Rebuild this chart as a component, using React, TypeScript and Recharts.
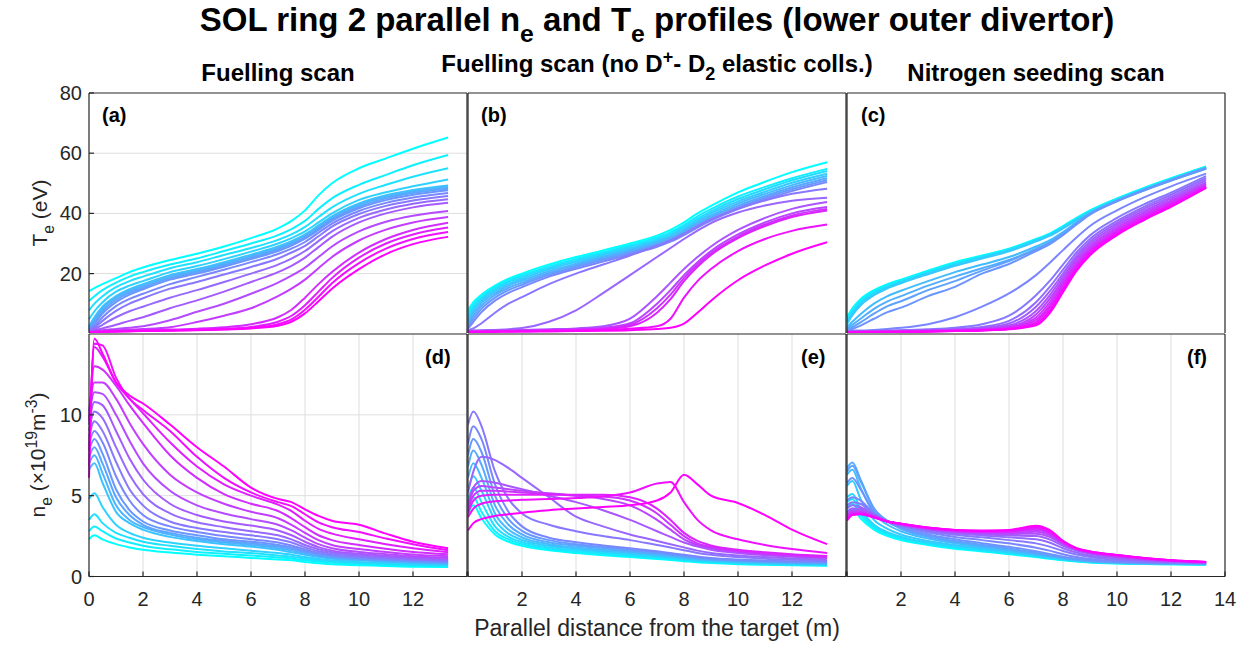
import React from 'react';
import { LineChart, Line, XAxis, YAxis, CartesianGrid } from 'recharts';

// parallel distance from the target (m), shared by every profile
const distance = [0, 0.2, 0.5, 1, 1.5, 2, 3, 4, 5, 6, 7, 7.5, 8, 8.5, 9, 10, 11, 12, 13.3];

// (a) Te, fuelling scan (eV)
const teFuelling = [
  [14.2, 15.2, 16.5, 18.5, 20.5, 22, 24.5, 26.6, 29, 31.8, 35, 37.5, 41, 46, 50, 55, 58.3, 61.5, 65.2],
  [10.9, 12.5, 14.5, 17, 19, 20.5, 23, 25, 27.5, 30, 32.8, 34.8, 37.5, 41.5, 45, 49.5, 52.8, 56, 59.4],
  [7.8, 10, 12.5, 15.5, 17.5, 19, 21.8, 23.8, 26.2, 28.5, 31.2, 33, 35.5, 38.8, 42, 46.5, 49.5, 52.2, 55],
  [4.8, 7.5, 10.5, 14, 16, 17.5, 20.5, 22.5, 24.8, 27.3, 30, 31.8, 34, 37, 40, 44.5, 47, 49, 51.3],
  [2.5, 5.5, 9, 12.5, 14.8, 16.5, 19.5, 21.5, 23.8, 26.3, 29, 30.8, 33, 36, 39, 43.3, 46, 47.8, 49.3],
  [2, 4.8, 8.3, 12, 14.3, 16, 19, 21, 23.3, 25.8, 28.5, 30.3, 32.5, 35.5, 38.5, 42.8, 45.5, 47.3, 48.8],
  [1.6, 4, 7.5, 11.3, 13.7, 15.4, 18.5, 20.5, 22.8, 25.3, 28, 29.8, 32, 35, 38, 42.2, 45, 46.8, 48.2],
  [1.3, 3.3, 6.7, 10.5, 13, 14.8, 18, 20, 22.3, 24.8, 27.5, 29.3, 31.6, 34.5, 37.5, 41.7, 44.4, 46.2, 47.7],
  [1.1, 2.5, 5.5, 9.2, 11.6, 13.3, 16.5, 18.9, 21.3, 23.8, 26.5, 28.3, 30.5, 33.6, 36.6, 40.8, 43.5, 45.3, 46.8],
  [1, 2, 4.3, 7.6, 10, 11.8, 15, 17.2, 19.7, 22.2, 25, 27, 29.2, 32.4, 35.6, 39.8, 42.5, 44.3, 45.8],
  [0.9, 1.5, 3, 5.5, 7.5, 9, 12, 14.5, 17.2, 20, 23, 25, 27.5, 30.8, 34, 38.5, 41.3, 43.2, 44.7],
  [0.8, 1.1, 1.8, 3, 4.3, 5.5, 8.5, 11.1, 14, 17.2, 20.5, 22.6, 25.3, 28.8, 32.2, 37, 40, 42, 43.5],
  [0.7, 0.9, 1.2, 1.6, 2, 2.5, 4.5, 7.3, 10, 13.3, 17, 19.3, 22, 25.5, 29, 34, 37.2, 39.2, 40.8],
  [0.6, 0.8, 1, 1.2, 1.4, 1.6, 2.2, 3.9, 6, 8.5, 12.5, 15, 18, 21.8, 25.5, 31, 34.6, 37, 38.8],
  [0.5, 0.7, 0.9, 1, 1.1, 1.2, 1.4, 1.7, 2.2, 3.2, 5.5, 8, 12, 16.5, 20.5, 27, 31.5, 34.5, 36.9],
  [0.5, 0.6, 0.8, 0.9, 1, 1.1, 1.2, 1.4, 1.7, 2.3, 4, 6, 9.5, 14, 18.5, 25.3, 30, 33, 35.3],
  [0.4, 0.5, 0.7, 0.8, 0.9, 1, 1.1, 1.3, 1.5, 2, 3.2, 4.8, 8, 12.3, 16.8, 23.5, 28.3, 31.5, 33.8],
  [0.4, 0.5, 0.6, 0.7, 0.8, 0.9, 1, 1.2, 1.4, 1.8, 2.7, 4, 6.8, 10.8, 15, 21.5, 26.5, 29.8, 32.2],
];

// (d) ne, fuelling scan (1e19 m^-3)
const neFuelling = [
  [2.3, 2.55, 2.3, 2.0, 1.8, 1.65, 1.48, 1.35, 1.25, 1.15, 1.05, 1.0, 0.9, 0.82, 0.75, 0.7, 0.65, 0.6, 0.58],
  [2.8, 3.1, 2.8, 2.35, 2.1, 1.9, 1.68, 1.52, 1.4, 1.3, 1.18, 1.12, 1.0, 0.92, 0.85, 0.78, 0.72, 0.68, 0.64],
  [3.5, 3.85, 3.3, 2.7, 2.4, 2.15, 1.9, 1.7, 1.55, 1.45, 1.3, 1.22, 1.1, 1.0, 0.92, 0.84, 0.78, 0.72, 0.68],
  [4.8, 5.15, 4.3, 3.2, 2.7, 2.4, 2.1, 1.9, 1.75, 1.6, 1.45, 1.35, 1.2, 1.08, 1.0, 0.9, 0.83, 0.77, 0.72],
  [6.6, 7.0, 5.8, 4.0, 3.3, 2.9, 2.45, 2.2, 2.0, 1.85, 1.65, 1.5, 1.35, 1.2, 1.1, 1.0, 0.92, 0.85, 0.78],
  [7.0, 7.5, 6.4, 4.4, 3.5, 3.05, 2.6, 2.3, 2.1, 1.95, 1.75, 1.6, 1.42, 1.26, 1.15, 1.04, 0.96, 0.88, 0.8],
  [7.4, 8.0, 7.0, 4.9, 3.8, 3.2, 2.7, 2.4, 2.2, 2.05, 1.85, 1.7, 1.5, 1.32, 1.2, 1.08, 1.0, 0.92, 0.84],
  [7.8, 8.5, 7.6, 5.4, 4.1, 3.4, 2.85, 2.55, 2.3, 2.15, 1.95, 1.8, 1.58, 1.38, 1.25, 1.12, 1.04, 0.96, 0.88],
  [8.2, 9.0, 8.3, 6.2, 4.7, 3.8, 3.1, 2.75, 2.5, 2.3, 2.1, 1.92, 1.68, 1.46, 1.32, 1.18, 1.08, 1.0, 0.92],
  [8.6, 9.6, 9.0, 7.1, 5.4, 4.4, 3.4, 3.0, 2.75, 2.55, 2.3, 2.1, 1.8, 1.56, 1.4, 1.24, 1.14, 1.05, 0.97],
  [9.0, 10.2, 9.8, 8.0, 6.3, 5.1, 3.9, 3.35, 3.05, 2.8, 2.55, 2.3, 1.95, 1.68, 1.5, 1.32, 1.2, 1.1, 1.02],
  [9.4, 10.8, 10.6, 9.0, 7.3, 6.0, 4.5, 3.8, 3.4, 3.15, 2.85, 2.55, 2.15, 1.82, 1.6, 1.4, 1.28, 1.17, 1.08],
  [9.8, 11.4, 11.3, 10.0, 8.4, 7.0, 5.3, 4.4, 3.9, 3.55, 3.2, 2.85, 2.4, 2.0, 1.75, 1.52, 1.38, 1.25, 1.15],
  [10.2, 12.0, 12.0, 11.0, 9.5, 8.2, 6.3, 5.2, 4.5, 4.0, 3.6, 3.2, 2.7, 2.25, 1.95, 1.7, 1.52, 1.36, 1.25],
  [9.6, 13.0, 12.8, 11.8, 10.6, 9.5, 7.5, 6.1, 5.1, 4.5, 4.05, 3.6, 3.05, 2.55, 2.25, 1.95, 1.72, 1.52, 1.38],
  [7.8, 14.2, 13.6, 12.0, 11.0, 10.1, 8.3, 6.8, 5.7, 5.0, 4.45, 4.05, 3.45, 2.95, 2.65, 2.3, 2.0, 1.75, 1.5],
  [6.8, 14.4, 14.3, 12.3, 11.0, 10.3, 9.0, 7.4, 6.1, 5.2, 4.6, 4.35, 3.85, 3.35, 3.05, 2.75, 2.35, 2.0, 1.62],
  [6.1, 14.7, 13.8, 12.0, 11.2, 10.7, 9.4, 8.0, 6.8, 5.5, 4.8, 4.6, 4.15, 3.75, 3.45, 3.2, 2.65, 2.15, 1.75],
];

// (b) Te, fuelling scan without D+ - D2 elastic collisions (eV)
const teNoElastic = [
  [7.8, 10.5, 13, 16, 18.3, 20, 23, 25.5, 27.7, 30, 32.6, 34.5, 37, 40, 42.5, 47, 50.5, 53.7, 57.0],
  [6.8, 9.6, 12.3, 15.4, 17.7, 19.4, 22.4, 24.9, 27.1, 29.4, 32, 33.8, 36.2, 39, 41.4, 45.6, 48.8, 51.7, 54.8],
  [5.8, 8.8, 11.7, 14.9, 17.2, 18.9, 21.9, 24.4, 26.6, 28.9, 31.4, 33.2, 35.6, 38.3, 40.7, 44.8, 48, 51, 54.1],
  [4.8, 7.9, 11, 14.3, 16.6, 18.3, 21.4, 23.9, 26.1, 28.4, 30.9, 32.6, 35, 37.6, 40, 44, 47.2, 50.2, 53.2],
  [3.9, 7, 10.2, 13.6, 16, 17.7, 20.8, 23.3, 25.6, 27.9, 30.4, 32.1, 34.4, 37, 39.3, 43.3, 46.5, 49.4, 52.4],
  [3.0, 6, 9.3, 12.9, 15.3, 17, 20.2, 22.8, 25.1, 27.4, 29.9, 31.6, 33.8, 36.4, 38.7, 42.6, 45.8, 48.7, 51.7],
  [2.3, 5, 8.3, 12, 14.5, 16.3, 19.6, 22.2, 24.6, 26.9, 29.4, 31.1, 33.3, 35.8, 38.1, 42, 45.2, 48, 51.0],
  [1.7, 4, 7.2, 11, 13.6, 15.5, 19, 21.6, 24, 26.4, 28.9, 30.6, 32.8, 35.3, 37.6, 41.4, 44.6, 47.4, 50.4],
  [1.2, 1.8, 3.5, 7, 10, 12.2, 16.5, 20, 23, 26, 29.3, 31, 33.3, 35.8, 38, 41.6, 44.3, 46.5, 48.2],
  [1, 1.1, 1.2, 1.3, 1.5, 1.9, 4, 7.8, 13.5, 19.5, 25.5, 28.5, 31.5, 34.3, 36.8, 40.3, 42.6, 44.2, 45.2],
  [0.9, 1, 1, 1.1, 1.2, 1.3, 1.5, 1.8, 2.5, 5, 12.5, 17, 21.5, 25.5, 29, 34.5, 38.5, 41.5, 43.8],
  [0.8, 0.9, 0.9, 1, 1, 1.1, 1.3, 1.5, 2, 3.5, 10, 14.5, 19.5, 23.8, 27.5, 33, 37, 40, 42.1],
  [0.8, 0.8, 0.9, 0.9, 1, 1, 1.2, 1.4, 1.8, 3, 8.5, 13, 18.5, 23, 26.8, 32.3, 36.3, 39.3, 41.5],
  [0.7, 0.8, 0.8, 0.9, 0.9, 1, 1.1, 1.3, 1.6, 2.5, 7, 11.5, 17.5, 22.3, 26.2, 31.8, 35.8, 38.8, 41.0],
  [0.6, 0.7, 0.7, 0.8, 0.8, 0.9, 1, 1.1, 1.3, 1.7, 2.5, 5, 12, 17.5, 21.5, 27.5, 31.5, 34.2, 36.3],
  [0.5, 0.5, 0.6, 0.6, 0.7, 0.7, 0.8, 0.9, 1, 1.2, 1.6, 2, 3.4, 7, 11, 17.8, 22.7, 26.6, 30.4],
];

// (e) ne, fuelling scan without elastic collisions
const neNoElastic = [
  [3.9, 4.4, 3.6, 2.6, 2.15, 1.9, 1.62, 1.45, 1.32, 1.2, 1.08, 1.02, 0.95, 0.88, 0.83, 0.76, 0.72, 0.69, 0.67],
  [4.3, 4.9, 4.0, 2.8, 2.3, 2.0, 1.7, 1.53, 1.4, 1.27, 1.14, 1.07, 1.0, 0.93, 0.87, 0.8, 0.75, 0.72, 0.7],
  [4.8, 5.5, 4.6, 3.1, 2.45, 2.12, 1.8, 1.62, 1.48, 1.34, 1.2, 1.13, 1.05, 0.98, 0.92, 0.84, 0.78, 0.75, 0.73],
  [5.4, 6.2, 5.3, 3.5, 2.65, 2.26, 1.9, 1.7, 1.56, 1.42, 1.27, 1.19, 1.1, 1.02, 0.96, 0.88, 0.82, 0.78, 0.76],
  [6.1, 7.0, 6.1, 3.9, 2.9, 2.42, 2.0, 1.8, 1.64, 1.5, 1.34, 1.25, 1.16, 1.07, 1.0, 0.92, 0.86, 0.82, 0.79],
  [6.8, 7.8, 6.9, 4.4, 3.2, 2.6, 2.12, 1.9, 1.73, 1.58, 1.41, 1.32, 1.22, 1.12, 1.05, 0.96, 0.9, 0.86, 0.83],
  [7.5, 8.5, 7.7, 5.0, 3.55, 2.82, 2.25, 2.0, 1.82, 1.66, 1.48, 1.38, 1.28, 1.18, 1.1, 1.0, 0.94, 0.9, 0.87],
  [8.2, 9.3, 8.5, 5.7, 4.0, 3.1, 2.4, 2.12, 1.92, 1.75, 1.56, 1.45, 1.34, 1.24, 1.15, 1.05, 0.98, 0.94, 0.91],
  [9.4, 10.2, 9.3, 6.5, 4.8, 3.9, 3.2, 2.8, 2.5, 2.25, 1.95, 1.8, 1.62, 1.46, 1.34, 1.2, 1.1, 1.04, 0.98],
  [5.2, 6.5, 7.4, 7.2, 6.7, 6.1, 4.9, 3.7, 3.1, 2.6, 2.2, 2.0, 1.8, 1.6, 1.45, 1.3, 1.2, 1.12, 1.05],
  [4.5, 5.5, 5.9, 5.8, 5.6, 5.4, 5.0, 4.6, 4.1, 3.5, 2.8, 2.45, 2.1, 1.85, 1.65, 1.45, 1.32, 1.22, 1.12],
  [4.3, 5.3, 5.6, 5.5, 5.4, 5.3, 5.15, 5.0, 4.8, 4.4, 3.5, 2.9, 2.3, 1.95, 1.75, 1.52, 1.38, 1.28, 1.18],
  [4.1, 5.0, 5.3, 5.3, 5.25, 5.2, 5.1, 5.0, 4.95, 4.7, 3.9, 3.2, 2.5, 2.05, 1.82, 1.58, 1.43, 1.32, 1.22],
  [3.9, 4.7, 5.0, 5.05, 5.05, 5.05, 5.05, 5.05, 5.05, 4.9, 4.2, 3.5, 2.7, 2.2, 1.92, 1.65, 1.5, 1.38, 1.27],
  [3.67, 4.2, 4.5, 4.65, 4.7, 4.75, 4.8, 4.85, 4.95, 5.2, 5.75, 5.85, 4.6, 3.5, 2.85, 2.3, 1.95, 1.7, 1.46],
  [2.85, 3.3, 3.55, 3.75, 3.85, 3.95, 4.1, 4.2, 4.3, 4.4, 4.7, 5.2, 6.3, 5.7, 5.0, 4.55, 3.8, 2.9, 2.0],
];

// (c) Te, nitrogen seeding scan (eV)
const teNitrogen = [
  [5.5, 8.5, 11.5, 14.5, 16.5, 18, 21, 23.8, 26, 28.3, 31.5, 33.3, 35.8, 38.5, 41, 45, 48.5, 51.7, 55.6],
  [5.0, 8.0, 11.0, 14.1, 16.2, 17.7, 20.7, 23.5, 25.8, 28.1, 31.3, 33.1, 35.6, 38.3, 40.8, 44.8, 48.3, 51.5, 55.4],
  [4.4, 7.4, 10.5, 13.7, 15.8, 17.4, 20.4, 23.2, 25.5, 27.9, 31.1, 32.9, 35.4, 38.1, 40.6, 44.6, 48.1, 51.3, 55.2],
  [3.8, 6.8, 10.0, 13.3, 15.5, 17.1, 20.1, 22.9, 25.3, 27.7, 30.9, 32.7, 35.2, 37.9, 40.4, 44.4, 47.9, 51.1, 55.0],
  [3.2, 6.2, 9.4, 12.8, 15.1, 16.8, 19.8, 22.6, 25.0, 27.4, 30.7, 32.5, 35.0, 37.7, 40.2, 44.2, 47.7, 50.9, 54.8],
  [2.2, 4.0, 6.5, 10, 12.5, 14.3, 17.5, 20.5, 23, 25.5, 29, 31, 33.8, 37, 40, 44.3, 47.9, 51.2, 55.2],
  [1.6, 3, 5, 8.3, 10.8, 12.5, 16, 19, 21.8, 24.5, 28.3, 30.5, 33.5, 36.8, 39.9, 44.2, 47.8, 51.1, 55.1],
  [1.2, 2.2, 3.8, 6.7, 9.2, 10.8, 14.5, 17.5, 21, 24.2, 28, 30.2, 33.2, 36.6, 39.8, 44.1, 47.7, 51, 55.0],
  [1.0, 1.6, 2.7, 5, 7.2, 8.7, 12.5, 15.6, 20, 23.2, 27.5, 29.7, 32.8, 36.3, 39.6, 44, 47.6, 50.9, 54.9],
  [0.9, 1, 1.1, 1.3, 1.6, 2, 3.2, 5.5, 9, 13.4, 19.5, 23.5, 27.8, 32, 35.8, 41, 45.3, 49, 53.2],
  [0.8, 0.9, 0.9, 1, 1.1, 1.2, 1.5, 2, 3.2, 6, 12.8, 17.5, 23, 28.3, 32.7, 38.5, 43, 46.9, 52.4],
  [0.8, 0.8, 0.9, 0.9, 1, 1.1, 1.3, 1.6, 2.3, 4.3, 10.5, 15.5, 21.3, 27, 31.5, 37.5, 42.2, 46.2, 51.7],
  [0.7, 0.8, 0.8, 0.9, 0.9, 1, 1.2, 1.4, 1.9, 3.4, 9, 14, 20, 26, 30.6, 36.8, 41.5, 45.5, 51.0],
  [0.7, 0.7, 0.8, 0.8, 0.9, 0.9, 1.1, 1.3, 1.7, 2.8, 7.6, 12.7, 19, 25.1, 29.8, 36.1, 40.8, 44.9, 50.3],
  [0.6, 0.7, 0.7, 0.8, 0.8, 0.9, 1, 1.2, 1.5, 2.4, 6.4, 11.5, 18, 24.3, 29, 35.4, 40.2, 44.3, 49.8],
  [0.6, 0.6, 0.7, 0.7, 0.8, 0.8, 0.9, 1.1, 1.4, 2.1, 5.4, 10.4, 17.1, 23.5, 28.3, 34.8, 39.6, 43.8, 49.4],
  [0.6, 0.6, 0.6, 0.7, 0.7, 0.8, 0.9, 1, 1.3, 1.9, 4.6, 9.4, 16.2, 22.8, 27.7, 34.2, 39.1, 43.3, 49.0],
  [0.5, 0.6, 0.6, 0.6, 0.7, 0.7, 0.8, 1, 1.2, 1.7, 3.9, 8.5, 15.4, 22.1, 27.1, 33.7, 38.6, 42.9, 48.8],
  [0.5, 0.5, 0.6, 0.6, 0.6, 0.7, 0.8, 0.9, 1.1, 1.6, 3.3, 7.6, 14.6, 21.5, 26.6, 33.2, 38.2, 42.5, 48.6],
  [0.5, 0.5, 0.5, 0.6, 0.6, 0.6, 0.7, 0.9, 1.1, 1.5, 2.8, 6.8, 13.8, 20.9, 26.1, 32.8, 37.8, 42.2, 48.5],
];

// (f) ne, nitrogen seeding scan
const neNitrogen = [
  [4.0, 4.2, 3.6, 2.9, 2.5, 2.25, 1.95, 1.72, 1.55, 1.38, 1.2, 1.1, 1.0, 0.92, 0.86, 0.8, 0.77, 0.75, 0.73],
  [4.3, 4.5, 3.8, 3.0, 2.6, 2.32, 2.0, 1.77, 1.6, 1.42, 1.23, 1.13, 1.03, 0.95, 0.88, 0.82, 0.78, 0.76, 0.74],
  [4.6, 4.8, 4.0, 3.1, 2.68, 2.4, 2.05, 1.82, 1.64, 1.46, 1.26, 1.16, 1.05, 0.97, 0.9, 0.83, 0.79, 0.77, 0.75],
  [4.9, 5.1, 4.2, 3.2, 2.75, 2.46, 2.1, 1.87, 1.68, 1.5, 1.29, 1.18, 1.07, 0.98, 0.91, 0.84, 0.8, 0.78, 0.76],
  [5.6, 5.9, 4.8, 3.5, 2.95, 2.6, 2.2, 1.95, 1.75, 1.55, 1.33, 1.21, 1.1, 1.0, 0.93, 0.85, 0.81, 0.79, 0.77],
  [6.3, 6.6, 5.5, 3.9, 3.2, 2.8, 2.35, 2.05, 1.83, 1.62, 1.38, 1.25, 1.13, 1.02, 0.95, 0.87, 0.82, 0.8, 0.78],
  [6.7, 7.05, 6.0, 4.2, 3.4, 2.95, 2.45, 2.13, 1.9, 1.68, 1.42, 1.28, 1.15, 1.04, 0.96, 0.88, 0.83, 0.81, 0.79],
  [6.5, 6.85, 5.9, 4.2, 3.45, 3.0, 2.5, 2.2, 1.96, 1.74, 1.47, 1.32, 1.18, 1.06, 0.98, 0.89, 0.84, 0.82, 0.8],
  [5.8, 6.1, 5.4, 4.0, 3.4, 3.05, 2.6, 2.3, 2.06, 1.84, 1.56, 1.4, 1.23, 1.1, 1.0, 0.9, 0.85, 0.83, 0.81],
  [4.7, 4.9, 4.7, 3.9, 3.4, 3.1, 2.72, 2.45, 2.25, 2.05, 1.78, 1.6, 1.38, 1.2, 1.08, 0.94, 0.88, 0.85, 0.82],
  [4.4, 4.6, 4.5, 3.85, 3.4, 3.15, 2.8, 2.58, 2.42, 2.25, 2.05, 1.85, 1.58, 1.36, 1.2, 1.02, 0.93, 0.88, 0.84],
  [4.2, 4.4, 4.3, 3.8, 3.4, 3.18, 2.86, 2.66, 2.54, 2.42, 2.3, 2.1, 1.75, 1.48, 1.3, 1.1, 0.98, 0.91, 0.85],
  [4.0, 4.2, 4.2, 3.78, 3.4, 3.2, 2.9, 2.72, 2.62, 2.54, 2.5, 2.3, 1.9, 1.6, 1.4, 1.16, 1.02, 0.93, 0.86],
  [3.9, 4.1, 4.1, 3.75, 3.4, 3.22, 2.94, 2.77, 2.68, 2.63, 2.65, 2.45, 2.0, 1.65, 1.45, 1.21, 1.05, 0.95, 0.87],
  [3.8, 4.0, 4.0, 3.72, 3.4, 3.23, 2.96, 2.8, 2.72, 2.7, 2.77, 2.56, 2.06, 1.68, 1.48, 1.25, 1.08, 0.97, 0.88],
  [3.7, 3.95, 3.95, 3.7, 3.4, 3.24, 2.98, 2.82, 2.75, 2.75, 2.87, 2.65, 2.1, 1.7, 1.5, 1.28, 1.1, 0.98, 0.88],
  [3.6, 3.9, 3.9, 3.68, 3.4, 3.25, 3.0, 2.84, 2.78, 2.79, 2.95, 2.72, 2.13, 1.72, 1.52, 1.31, 1.12, 0.99, 0.89],
  [3.55, 3.85, 3.88, 3.67, 3.4, 3.26, 3.01, 2.86, 2.8, 2.82, 3.02, 2.78, 2.16, 1.73, 1.53, 1.32, 1.13, 1.0, 0.89],
  [3.5, 3.82, 3.86, 3.66, 3.4, 3.26, 3.02, 2.87, 2.82, 2.85, 3.08, 2.83, 2.18, 1.74, 1.54, 1.33, 1.14, 1.0, 0.9],
  [3.45, 3.8, 3.85, 3.65, 3.4, 3.27, 3.03, 2.88, 2.84, 2.88, 3.14, 2.88, 2.2, 1.75, 1.55, 1.33, 1.15, 1.01, 0.9],
];

const xTicks = [0, 2, 4, 6, 8, 10, 12, 14];
const xGrid = [2, 4, 6, 8, 10, 12];
const teTicks = [0, 20, 40, 60, 80];
const teGrid = [20, 40, 60];
const neTicks = [0, 5, 10];
const neTicksMid = [0, 5, 7.5, 10];
const neGrid = [5, 10];

const FONT = '"Liberation Sans", Arial, Helvetica, sans-serif';
const AXIS = '#262626';

// MATLAB "cool" colormap: cyan -> magenta
const coolColor = (i: number, n: number) => {
  const t = n > 1 ? i / (n - 1) : 0;
  return `rgb(${Math.round(255 * t)},${Math.round(255 * (1 - t))},255)`;
};

const Y_W = 60;
const X_H = 40;
const PAD = 16; // room above / right of the plot for the outer tick labels
const BOX = 1; // size of the tick-only top / right axes (a zero-sized axis is not drawn)

interface PanelProps {
  left: number;
  top: number;
  width: number;
  height: number;
  lines: number[][];
  yDomain: [number, number];
  yTicks: number[];
  yGrid: number[];
  yLabels: boolean;
  xLabels: number[] | null;
}

function Panel({ left, top, width, height, lines, yDomain, yTicks, yGrid, yLabels, xLabels }: PanelProps) {
  const data = distance.map((x, j) => {
    const row: Record<string, number> = { x };
    lines.forEach((l, i) => {
      row['s' + i] = l[j];
    });
    return row;
  });
  const xh = xLabels ? X_H : 0;
  const w = width + Y_W + PAD;
  const h = height + xh + PAD;
  const tickStyle = { fontSize: 20, fill: AXIS, fontFamily: FONT };
  const showY = (v: number) => yLabels && (v !== 0 || yDomain[1] < 20);

  return (
    <div style={{ position: 'absolute', left: left - Y_W, top: top - PAD, width: w, height: h }}>
      <LineChart width={w} height={h} data={data} margin={{ top: PAD - BOX, right: PAD - BOX, bottom: 0, left: 0 }}>
        <CartesianGrid xAxisId="b" yAxisId="l" stroke="#dedede" strokeWidth={1} verticalValues={xGrid} horizontalValues={yGrid} />
        <XAxis
          xAxisId="b"
          dataKey="x"
          type="number"
          domain={[0, 14]}
          ticks={xTicks}
          interval={0}
          height={xh}
          stroke={AXIS}
          strokeWidth={1.2}
          tickSize={-5}
          tickMargin={20}
          tick={xLabels ? tickStyle : false}
          tickFormatter={(v: number) => (xLabels && xLabels.includes(v) ? String(v) : '')}
        />
        <XAxis xAxisId="t" orientation="top" dataKey="x" type="number" domain={[0, 14]} ticks={xTicks} interval={0} height={BOX} stroke={AXIS} strokeWidth={1.2} tickSize={-5} tick={false} />
        <YAxis
          yAxisId="l"
          type="number"
          domain={yDomain}
          ticks={yTicks}
          interval={0}
          width={Y_W}
          stroke={AXIS}
          strokeWidth={1.2}
          tickSize={-5}
          tickMargin={12}
          tick={yLabels ? tickStyle : false}
          tickFormatter={(v: number) => (showY(v) ? String(v) : '')}
        />
        <YAxis yAxisId="r" orientation="right" type="number" domain={yDomain} ticks={yTicks} interval={0} width={BOX} stroke={AXIS} strokeWidth={1.2} tickSize={-5} tick={false} />
        {lines.map((_, i) => (
          <Line
            key={i}
            xAxisId="b"
            yAxisId="l"
            dataKey={'s' + i}
            type="monotone"
            stroke={coolColor(i, lines.length)}
            strokeWidth={2}
            dot={false}
            isAnimationActive={false}
          />
        ))}
      </LineChart>
    </div>
  );
}

const abs = (extra: React.CSSProperties): React.CSSProperties => ({
  position: 'absolute',
  fontFamily: FONT,
  color: '#000',
  whiteSpace: 'nowrap',
  ...extra,
});

const sub: React.CSSProperties = { fontSize: '0.75em', position: 'relative', top: '0.45em' };
const sup: React.CSSProperties = { fontSize: '0.75em', position: 'relative', top: '-0.5em' };

const COLS = [89, 468, 847];
const PW = 378;
const TOP_Y = 92.7;
const TOP_H = 240.8;
const BOT_Y = 333.5;
const BOT_H = 242.5;

export default function App() {
  const tag = (text: string, x: number, y: number) => (
    <div style={abs({ left: x, top: y, fontSize: 20, fontWeight: 'bold', lineHeight: '22px' })}>{text}</div>
  );
  return (
    <div style={{ position: 'absolute', left: 0, top: 0, width: 1254, height: 646, background: '#fff', overflow: 'hidden' }}>
      <div style={abs({ left: 657, top: 1, transform: 'translateX(-50%)', fontSize: 33, fontWeight: 'bold', lineHeight: '38px' })}>
        SOL ring 2 parallel n<span style={sub}>e</span> and T<span style={sub}>e</span> profiles (lower outer divertor)
      </div>
      <div style={abs({ left: 278, top: 59, transform: 'translateX(-50%)', fontSize: 24, fontWeight: 'bold', lineHeight: '28px' })}>
        Fuelling scan
      </div>
      <div style={abs({ left: 657, top: 50, transform: 'translateX(-50%)', fontSize: 24, fontWeight: 'bold', lineHeight: '28px' })}>
        Fuelling scan (no D<span style={sup}>+</span>- D<span style={sub}>2</span> elastic colls.)
      </div>
      <div style={abs({ left: 1036, top: 59, transform: 'translateX(-50%)', fontSize: 24, fontWeight: 'bold', lineHeight: '28px' })}>
        Nitrogen seeding scan
      </div>

      <Panel left={COLS[0]} top={TOP_Y} width={PW} height={TOP_H} lines={teFuelling} yDomain={[0, 80]} yTicks={teTicks} yGrid={teGrid} yLabels={true} xLabels={null} />
      <Panel left={COLS[1]} top={TOP_Y} width={PW} height={TOP_H} lines={teNoElastic} yDomain={[0, 80]} yTicks={teTicks} yGrid={teGrid} yLabels={false} xLabels={null} />
      <Panel left={COLS[2]} top={TOP_Y} width={PW} height={TOP_H} lines={teNitrogen} yDomain={[0, 80]} yTicks={teTicks} yGrid={teGrid} yLabels={false} xLabels={null} />
      <Panel left={COLS[0]} top={BOT_Y} width={PW} height={BOT_H} lines={neFuelling} yDomain={[0, 15]} yTicks={neTicks} yGrid={neGrid} yLabels={true} xLabels={[0, 2, 4, 6, 8, 10, 12]} />
      <Panel left={COLS[1]} top={BOT_Y} width={PW} height={BOT_H} lines={neNoElastic} yDomain={[0, 15]} yTicks={neTicksMid} yGrid={neGrid} yLabels={false} xLabels={[2, 4, 6, 8, 10, 12]} />
      <Panel left={COLS[2]} top={BOT_Y} width={PW} height={BOT_H} lines={neNitrogen} yDomain={[0, 15]} yTicks={neTicksMid} yGrid={neGrid} yLabels={false} xLabels={[2, 4, 6, 8, 10, 12, 14]} />

      {tag('(a)', 102, 104)}
      {tag('(b)', 481, 104)}
      {tag('(c)', 861, 104)}
      {tag('(d)', 425, 346)}
      {tag('(e)', 801, 346)}
      {tag('(f)', 1187, 346)}

      <div style={abs({ left: 40, top: 213, transform: 'translate(-50%, -50%) rotate(-90deg)', fontSize: 21, color: AXIS })}>
        T<span style={sub}>e</span> (eV)
      </div>
      <div style={abs({ left: 38, top: 455, transform: 'translate(-50%, -50%) rotate(-90deg)', fontSize: 21, color: AXIS })}>
        n<span style={sub}>e</span> (×10<span style={sup}>19</span>m<span style={sup}>-3</span>)
      </div>
      <div style={abs({ left: 657, top: 614, transform: 'translateX(-50%)', fontSize: 23, color: AXIS, lineHeight: '28px' })}>
        Parallel distance from the target (m)
      </div>
    </div>
  );
}
